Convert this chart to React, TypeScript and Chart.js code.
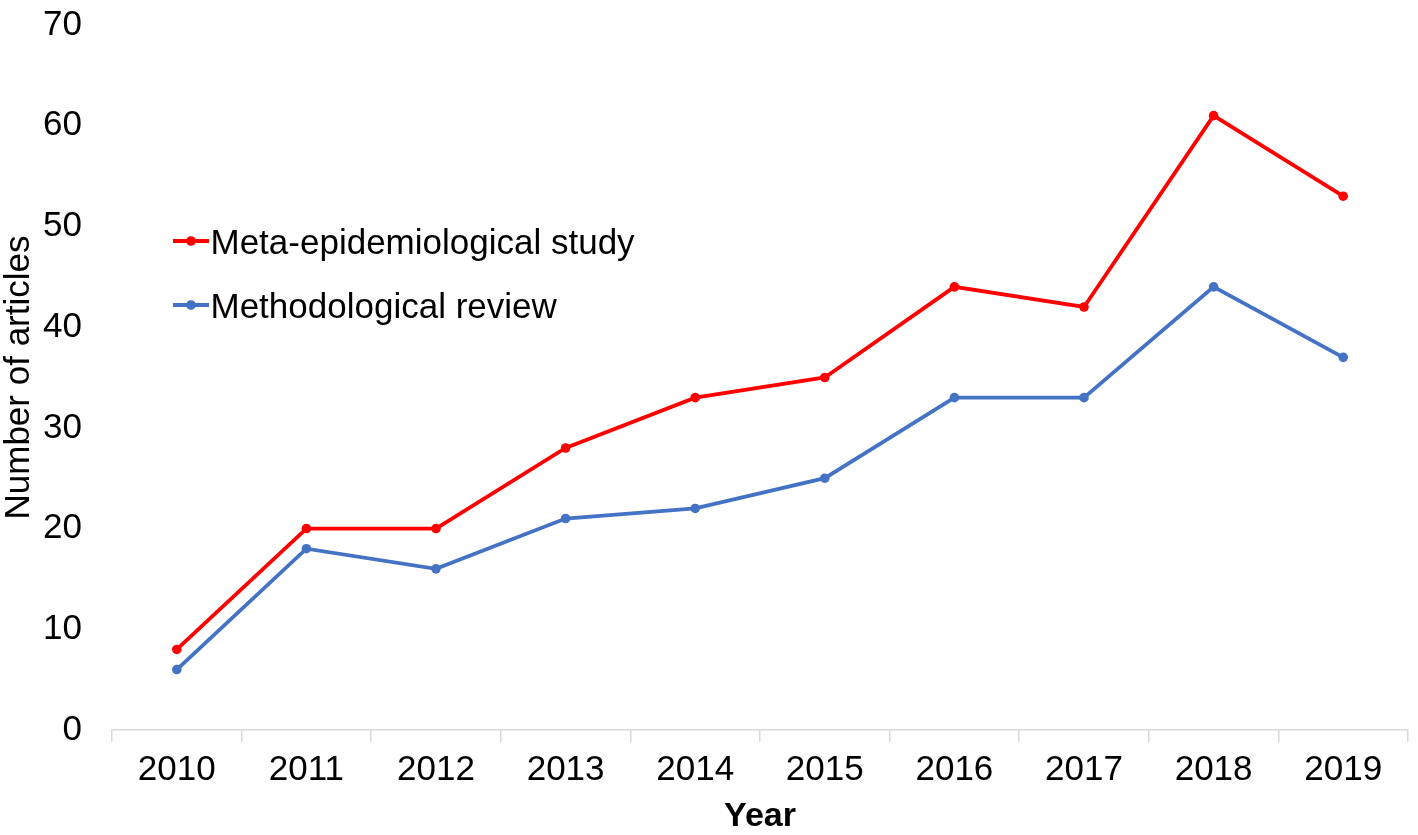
import React, { useEffect, useRef } from "react";
import { Chart, registerables } from "chart.js";

Chart.register(...registerables);

const years = ["2010", "2011", "2012", "2013", "2014", "2015", "2016", "2017", "2018", "2019"];
const metaEpidemiological = [8, 20, 20, 28, 33, 35, 44, 42, 61, 53];
const methodologicalReview = [6, 18, 16, 21, 22, 25, 33, 33, 44, 37];
const seriesNames = ["Meta-epidemiological study", "Methodological review"];
const seriesColors = ["#FF0000", "#4472C4"];
const yMin = 0;
const yMax = 70;
const yStep = 10;
const xTitle = "Year";
const yTitle = "Number of articles";

const FONT = "'Liberation Sans', Arial, sans-serif";

const insideLegend = {
  id: "insideLegend",
  afterDraw(chart: any) {
    const { ctx, chartArea } = chart;
    chart.data.datasets.forEach((ds: any, i: number) => {
      const y = chartArea.top + 216 + i * 64;
      const x0 = chartArea.left + 61;
      ctx.save();
      ctx.strokeStyle = ds.borderColor;
      ctx.lineWidth = 3.8;
      ctx.beginPath();
      ctx.moveTo(x0, y);
      ctx.lineTo(x0 + 36, y);
      ctx.stroke();
      ctx.fillStyle = ds.borderColor;
      ctx.beginPath();
      ctx.arc(x0 + 18, y, 4.8, 0, Math.PI * 2);
      ctx.fill();
      ctx.fillStyle = "#000";
      ctx.font = `35px ${FONT}`;
      ctx.textBaseline = "middle";
      ctx.textAlign = "left";
      ctx.fillText(ds.label, x0 + 37.5, y + 3.5);
      ctx.restore();
    });
  },
};

export default function App() {
  const canvasRef = useRef<HTMLCanvasElement | null>(null);

  useEffect(() => {
    if (!canvasRef.current) return;
    const chart = new Chart(canvasRef.current, {
      type: "line",
      data: {
        labels: years,
        datasets: [
          {
            label: seriesNames[0],
            data: metaEpidemiological,
            borderColor: seriesColors[0],
            backgroundColor: seriesColors[0],
            pointBackgroundColor: seriesColors[0],
            borderWidth: 3.8,
            pointRadius: 4.8,
            pointBorderWidth: 0,
            tension: 0,
          },
          {
            label: seriesNames[1],
            data: methodologicalReview,
            borderColor: seriesColors[1],
            backgroundColor: seriesColors[1],
            pointBackgroundColor: seriesColors[1],
            borderWidth: 3.8,
            pointRadius: 4.8,
            pointBorderWidth: 0,
            tension: 0,
          },
        ],
      },
      options: {
        animation: false,
        responsive: true,
        maintainAspectRatio: false,
        layout: { padding: { top: 25, right: 10, left: 0, bottom: 0 } },
        plugins: {
          legend: { display: false },
          tooltip: { enabled: false },
        },
        scales: {
          x: {
            type: "category",
            offset: true,
            grid: {
              display: true,
              drawOnChartArea: false,
              drawTicks: true,
              tickLength: 12,
              color: "#d9d9d9",
              lineWidth: 1.5,
              offset: true,
            },
            border: { display: true, color: "#d9d9d9", width: 1.5 },
            ticks: {
              color: "#000",
              font: { family: FONT, size: 35 },
              padding: 7,
              maxRotation: 0,
              autoSkip: false,
            },
            title: {
              display: true,
              text: xTitle,
              color: "#000",
              font: { family: FONT, size: 34, weight: "bold", lineHeight: 1.1 },
              padding: 0,
            },
            afterFit(scale: any) {
              scale.height = 105;
            },
          },
          y: {
            min: yMin,
            max: yMax,
            grid: { display: false, drawTicks: true, tickLength: 30 },
            border: { display: false },
            ticks: {
              stepSize: yStep,
              color: "#000",
              font: { family: FONT, size: 35 },
              padding: 0,
            },
            title: {
              display: true,
              text: yTitle,
              color: "#000",
              font: { family: FONT, size: 35, lineHeight: 1.1 },
              padding: 0,
            },
            afterFit(scale: any) {
              scale.width = 112;
              scale.paddingTop = 0;
            },
          },
        },
      },
      plugins: [insideLegend],
    } as any);
    return () => chart.destroy();
  }, []);

  return (
    <div style={{ position: "absolute", left: 0, top: 0, width: 1418, height: 835, background: "#fff" }}>
      <canvas ref={canvasRef} />
    </div>
  );
}
